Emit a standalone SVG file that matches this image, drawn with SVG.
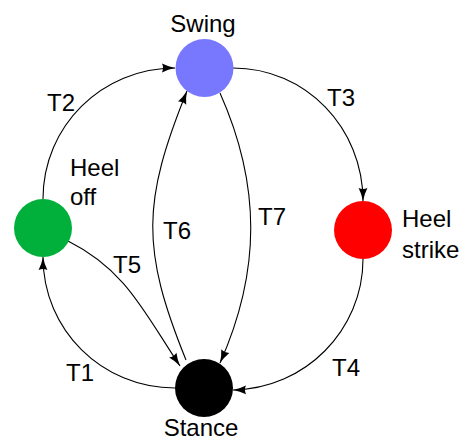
<svg xmlns="http://www.w3.org/2000/svg" width="461" height="441" viewBox="0 0 461 441">
  <style>
    .lbl { font-family: "Liberation Sans", Arial, sans-serif; font-size: 24px; fill: #000; }
    .edge { fill: none; stroke: #000; stroke-width: 1.1; }
  </style>
  <defs>
    <marker id="arrow" markerUnits="userSpaceOnUse" markerWidth="14" markerHeight="10" refX="13" refY="5" orient="auto" overflow="visible">
      <path d="M0,0.6 Q6,3.6 13,5 Q6,6.4 0,9.4 Q2,5 0,0.6 Z" fill="#000"/>
    </marker>
  </defs>

  <!-- transitions -->
  <g id="connectors">
    <path class="edge" d="M43,199 C43,126 102,68 175,68" marker-end="url(#arrow)"/>
    <path class="edge" d="M233,68 C306,68 363,128 363,201" marker-end="url(#arrow)"/>
    <path class="edge" d="M363,259 C363,330 305,389 233,390" marker-end="url(#arrow)"/>
    <path class="edge" d="M175,388 C102,388 43,330 43,257" marker-end="url(#arrow)"/>
    <path class="edge" d="M68,241 C126,270 144,312 180,366" marker-end="url(#arrow)"/>
    <path class="edge" d="M186,360 C141,249 142,202 187,91" marker-end="url(#arrow)"/>
    <path class="edge" d="M220,93 C261,185 261,271 220,363" marker-end="url(#arrow)"/>
    <text class="lbl" x="47" y="111">T2</text>
    <text class="lbl" x="327" y="106">T3</text>
    <text class="lbl" x="332" y="376">T4</text>
    <text class="lbl" x="66" y="381">T1</text>
    <text class="lbl" x="113" y="273">T5</text>
    <text class="lbl" x="163" y="239">T6</text>
    <text class="lbl" x="258" y="225">T7</text>
  </g>

  <g id="swing">
    <circle cx="204.5" cy="68" r="29" fill="#7878ff"/>
    <text class="lbl" x="203" y="32" text-anchor="middle">Swing</text>
  </g>
  <g id="heel-off">
    <circle cx="43" cy="228" r="29" fill="#00b03a"/>
    <text class="lbl" x="70" y="176">Heel</text>
    <text class="lbl" x="70" y="205">off</text>
  </g>
  <g id="heel-strike">
    <circle cx="363" cy="230" r="29" fill="#ff0000"/>
    <text class="lbl" x="402" y="227">Heel</text>
    <text class="lbl" x="402" y="258">strike</text>
  </g>
  <g id="stance">
    <circle cx="204" cy="388" r="29" fill="#000"/>
    <text class="lbl" x="201" y="436" text-anchor="middle">Stance</text>
  </g>
</svg>
